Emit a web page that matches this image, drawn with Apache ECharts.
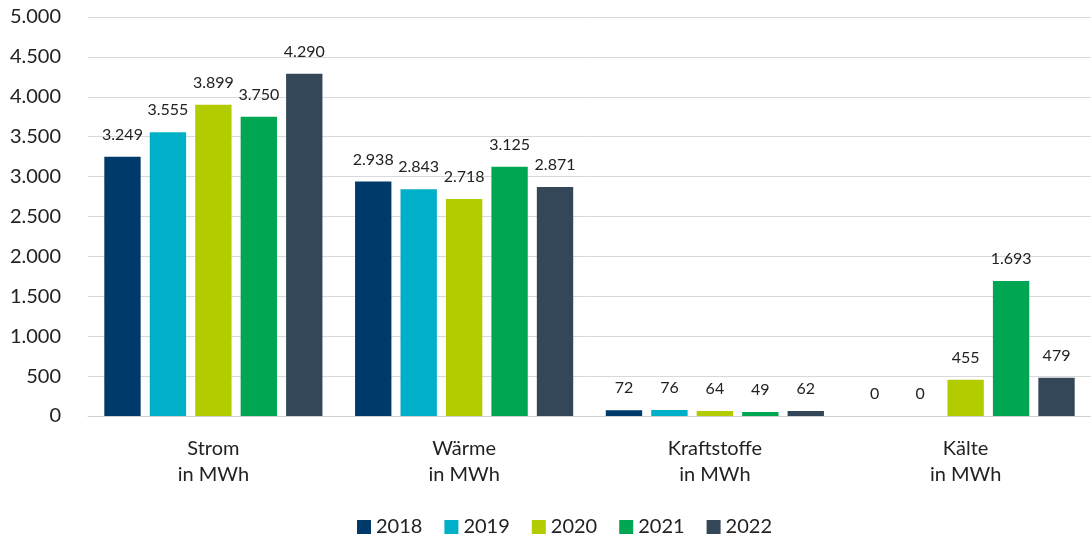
<!DOCTYPE html>
<html>
<head>
<meta charset="utf-8">
<script src="https://cdn.jsdelivr.net/npm/echarts@6/dist/echarts.min.js"></script>
<style>
  html, body { margin: 0; padding: 0; background: #fff; }
  #chart { width: 1091px; height: 545px; }
</style>
</head>
<body>
<div id="chart"></div>
<script>
const categories = ['Strom\nin MWh', 'Wärme\nin MWh', 'Kraftstoffe\nin MWh', 'Kälte\nin MWh'];
const years = ['2018', '2019', '2020', '2021', '2022'];
const v2018 = [3249, 2938, 72, 0];
const v2019 = [3555, 2843, 76, 0];
const v2020 = [3899, 2718, 64, 455];
const v2021 = [3750, 3125, 49, 1693];
const v2022 = [4290, 2871, 62, 479];
const colors = ['#003a6b', '#00b0c8', '#b3cc00', '#00a651', '#344759'];

const fmt = v => String(v).replace(/\B(?=(\d{3})+(?!\d))/g, '.');
const font = 'Lato, "Noto Sans", sans-serif';

const chart = echarts.init(document.getElementById('chart'));
const values = [v2018, v2019, v2020, v2021, v2022];

chart.setOption({
  animation: false,
  color: colors,
  textStyle: { fontFamily: font },
  grid: { left: 88, right: 0, top: 17, bottom: 129 },
  legend: {
    bottom: 3,
    left: 352,
    itemWidth: 14,
    itemHeight: 14,
    itemGap: 22,
    icon: 'rect',
    textStyle: { fontSize: 20, color: '#222', fontFamily: font }
  },
  xAxis: {
    type: 'category',
    data: categories,
    axisTick: { show: false },
    axisLine: { lineStyle: { color: '#d0d0d0', width: 1 } },
    axisLabel: { fontSize: 20, color: '#222', lineHeight: 26, margin: 20, fontFamily: font }
  },
  yAxis: {
    type: 'value',
    min: 0,
    max: 5000,
    interval: 500,
    axisLabel: { fontSize: 20, color: '#222', margin: 27, formatter: fmt, fontFamily: font },
    splitLine: { lineStyle: { color: '#d9d9d9', width: 1 } }
  },
  series: years.map((y, i) => ({
    name: y,
    type: 'bar',
    data: values[i],
    barGap: '25%',
    barCategoryGap: '13%',
    label: {
      show: true,
      position: 'top',
      distance: 14,
      fontSize: 16,
      color: '#222',
      fontFamily: font,
      formatter: p => fmt(p.value)
    }
  }))
});
</script>
</body>
</html>
